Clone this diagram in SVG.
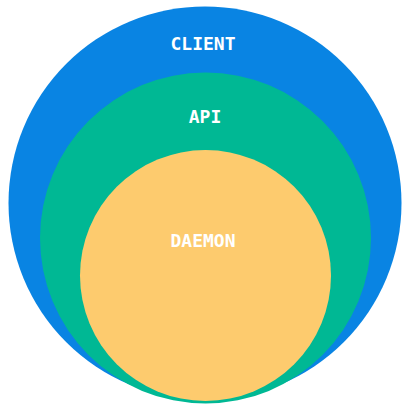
<svg xmlns="http://www.w3.org/2000/svg" width="410" height="410" viewBox="0 0 410 410">
<style>
.lbl{font-family:"DejaVu Sans Mono","Liberation Mono",monospace;font-weight:bold;font-size:18px;fill:#ffffff;text-anchor:middle}
</style>
<rect width="410" height="410" fill="#ffffff"/>
<g id="client"><circle cx="205" cy="203" r="196.5" fill="#0984e3"/><text class="lbl" x="203" y="50">CLIENT</text></g>
<g id="api"><circle cx="205.5" cy="238" r="165.5" fill="#00b894"/><text class="lbl" x="205" y="123">API</text></g>
<g id="daemon"><circle cx="205.5" cy="275.5" r="125.5" fill="#fdcb6e"/><text class="lbl" x="203" y="247">DAEMON</text></g>
<g id="connectors"/>
</svg>
